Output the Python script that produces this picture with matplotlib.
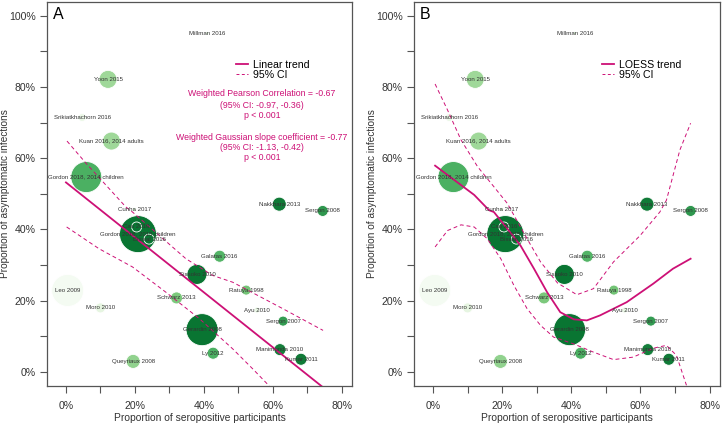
import numpy as np
import matplotlib
matplotlib.use("Agg")
import matplotlib.pyplot as plt
from matplotlib.lines import Line2D

plt.rcParams['font.family'] = ['Liberation Sans', 'DejaVu Sans']

# study points
labels = ["Millman 2016", "Yoon 2015", "Srikiatkhachorn 2016", "Kuan 2016, 2014 adults",
          "Gordon 2018, 2014 children", "Nakkhara 2013", "Sergon 2008", "Cunha 2017",
          "Gordon 2018, 2015 children", "Cao 2016", "Biswal 2016", "Galatas 2016",
          "Sissoko 2010", "Ratuya 1998", "Leo 2009", "Schwarz 2013", "Moro 2010",
          "Ayu 2010", "Sergon 2007", "Gerardin 2008", "Ly 2012", "Manimunda 2010",
          "Kumar 2011", "Queyriaux 2008"]
seropos = [0.41, 0.122, 0.047, 0.132, 0.059, 0.619, 0.745, 0.198, 0.209, 0.205, 0.241,
           0.446, 0.38, 0.523, 0.005, 0.321, 0.10, 0.554, 0.63, 0.395, 0.427, 0.621,
           0.682, 0.195]
asympt = [0.95, 0.821, 0.714, 0.648, 0.547, 0.471, 0.452, 0.456, 0.387, 0.407, 0.373,
          0.325, 0.274, 0.23, 0.229, 0.208, 0.18, 0.174, 0.143, 0.119, 0.053, 0.063,
          0.036, 0.03]
radius_px = [1.5, 9, 4, 9, 15.5, 7, 5.5, 2, 18.5, 5, 5, 6, 10, 5, 16, 6, 5, 3, 5, 16, 6, 6,
             6, 7]
shade = [0.2, 0.38, 0.08, 0.38, 0.6, 0.82, 0.7, 0.15, 0.84, 0.84, 0.84, 0.58, 0.84, 0.5,
         0.02, 0.48, 0.12, 0.1, 0.68, 0.84, 0.6, 0.8, 0.82, 0.42]

# panel A linear trend and CI
lin_x = [0.0, 0.745]
lin_y = [0.532, -0.042]
lin_up_x = [0.003, 0.058, 0.174, 0.193, 0.348, 0.426, 0.484, 0.629, 0.746]
lin_up_y = [0.648, 0.586, 0.463, 0.449, 0.318, 0.271, 0.252, 0.178, 0.117]
lin_lo_x = [0.002, 0.096, 0.193, 0.29, 0.387, 0.484, 0.542, 0.59]
lin_lo_y = [0.407, 0.346, 0.295, 0.224, 0.15, 0.065, 0.009, -0.039]

# panel B loess trend and CI
lo_x = [0.006, 0.119, 0.162, 0.176, 0.215, 0.253, 0.292, 0.33, 0.368, 0.407, 0.445,
        0.483, 0.56, 0.637, 0.694, 0.745]
lo_y = [0.579, 0.497, 0.454, 0.449, 0.402, 0.355, 0.29, 0.224, 0.168, 0.148, 0.145,
        0.159, 0.196, 0.248, 0.29, 0.318]
lo_up_x = [0.006, 0.042, 0.081, 0.129, 0.176, 0.215, 0.272, 0.311, 0.36, 0.416, 0.464,
           0.522, 0.599, 0.656, 0.675, 0.714, 0.745]
lo_up_y = [0.808, 0.735, 0.651, 0.576, 0.52, 0.473, 0.374, 0.309, 0.25, 0.217, 0.234,
           0.309, 0.383, 0.449, 0.482, 0.623, 0.698]
lo_lo_x = [0.006, 0.042, 0.081, 0.119, 0.157, 0.196, 0.234, 0.272, 0.311, 0.349, 0.407,
           0.464, 0.522, 0.579, 0.637, 0.675, 0.704, 0.733]
lo_lo_y = [0.351, 0.397, 0.413, 0.407, 0.374, 0.318, 0.243, 0.178, 0.131, 0.098, 0.079,
           0.056, 0.035, 0.042, 0.067, 0.075, 0.047, -0.037]

stats_text = ["Weighted Pearson Correlation = -0.67", "(95% CI: -0.97, -0.36)", "p < 0.001",
              "Weighted Gaussian slope coefficient = -0.77", "(95% CI: -1.13, -0.42)", "p < 0.001"]

pink = '#cd1076'
grey = '#555555'

fig = plt.figure(figsize=(7.22, 4.24), dpi=100)
axA = fig.add_axes([47 / 722, 38 / 424, 305 / 722, 384 / 424])
axB = fig.add_axes([414 / 722, 38 / 424, 306 / 722, 384 / 424])

x = np.array(seropos)
y = np.array(asympt)
s = (np.array(radius_px) * 1.44) ** 2
cols = plt.cm.Greens(np.array(shade))
order = np.argsort(-np.array(radius_px))


def base(ax, letter):
    ax.scatter(x[order], y[order], s=s[order], c=cols[order], edgecolors='white',
               linewidths=0.6, zorder=2)
    for lab, xi, yi in zip(labels, seropos, asympt):
        ax.text(xi, yi, lab, fontsize=4.4, color='#333333', ha='center', va='center', zorder=4)
    ax.set_xlim(-0.055, 0.83)
    ax.set_ylim(-0.039, 1.038)
    ax.set_xticks([0, 0.2, 0.4, 0.6, 0.8])
    ax.set_xticks(np.arange(0.1, 0.8, 0.2), minor=True)
    ax.set_yticks([0, 0.2, 0.4, 0.6, 0.8, 1.0])
    ax.set_yticks(np.arange(0.1, 1.0, 0.2), minor=True)
    ax.set_xticklabels(['0%', '20%', '40%', '60%', '80%'])
    ax.set_yticklabels(['0%', '20%', '40%', '60%', '80%', '100%'])
    ax.tick_params(which='both', length=5, width=0.8, color=grey, labelsize=7.6,
                   labelcolor='#333333', pad=3)
    ax.tick_params(axis='x', pad=6)
    for sp in ax.spines.values():
        sp.set_color(grey)
        sp.set_linewidth(0.9)
    ax.set_xlabel('Proportion of seropositive participants', fontsize=7.4, color='#333333')
    ax.set_ylabel('Proportion of asymptomatic infections', fontsize=7.3, color='#333333')
    ax.xaxis.set_label_coords(0.5, -0.07)
    ax.yaxis.set_label_coords(-0.121, 0.5)
    ax.text(0.02, 0.988, letter, transform=ax.transAxes, fontsize=11.5, ha='left', va='top')


base(axA, 'A')
base(axB, 'B')

axA.plot(lin_x, lin_y, color=pink, lw=1.3, zorder=3)
axA.plot(lin_up_x, lin_up_y, color=pink, lw=0.7, ls=(0, (4, 3)), zorder=3)
axA.plot(lin_lo_x, lin_lo_y, color=pink, lw=0.7, ls=(0, (4, 3)), zorder=3)

axB.plot(lo_x, lo_y, color=pink, lw=1.3, zorder=3)
axB.plot(lo_up_x, lo_up_y, color=pink, lw=0.7, ls=(0, (4, 3)), zorder=3)
axB.plot(lo_lo_x, lo_lo_y, color=pink, lw=0.7, ls=(0, (4, 3)), zorder=3)

for ax, name, lx in [(axA, 'Linear trend', 0.62), (axB, 'LOESS trend', 0.615)]:
    handles = [Line2D([], [], color=pink, lw=1.3),
               Line2D([], [], color=pink, lw=0.7, ls=(0, (3, 2.5)))]
    ax.legend(handles, [name, '95% CI'], loc='upper left', bbox_to_anchor=(lx, 0.85),
              frameon=False, fontsize=7.6, handlelength=1.1, handletextpad=0.5,
              labelspacing=0.05, borderpad=0, borderaxespad=0)

ys = [94, 106, 116, 137, 147, 157]
for t, yp in zip(stats_text, ys):
    fig.text(262 / 722, 1 - yp / 424, t, fontsize=6.3, color=pink, ha='center', va='center')

fig.savefig('out.png', dpi=100)
